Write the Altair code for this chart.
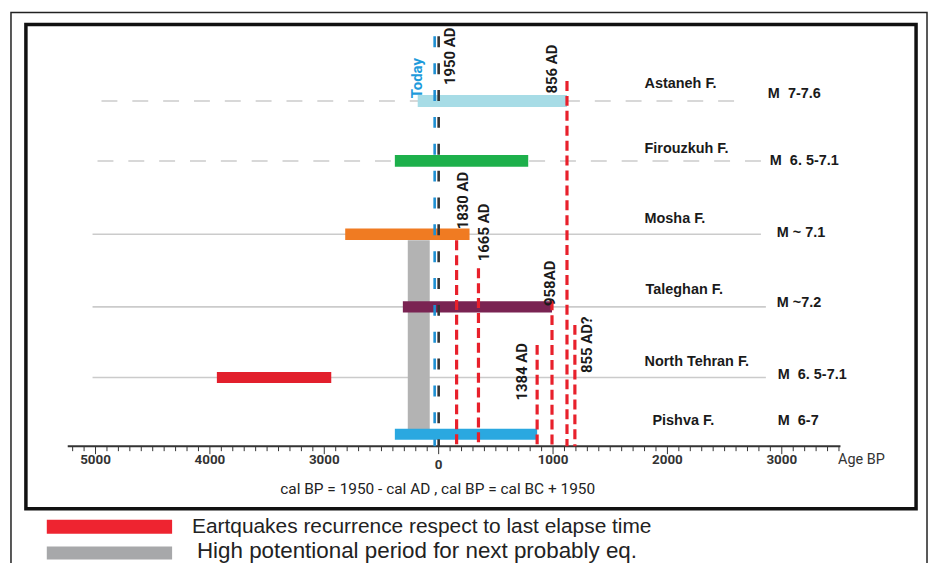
import altair as alt
import pandas as pd

# ---------------- data ----------------
faults = ["Astaneh F.", "Firouzkuh F.", "Mosha F.", "Taleghan F.", "North Tehran F.", "Pishva F."]
magnitudes = ["M\u00a0 7-7.6", "M\u00a0 6. 5-7.1", "M ~ 7.1", "M ~7.2", "M\u00a0 6. 5-7.1", "M\u00a0 6-7"]
row_level = [5.0, 4.1, 3.0, 1.91, 0.85, 0.0]
bar_start_bp = [-183, -383, -817, -313, -1939, -383]
bar_end_bp = [1122, 783, 270, 991, -939, 861]

events = ["856 AD", "1830 AD", "1665 AD", "958AD", "1384 AD", "855 AD?"]
event_bp = [1122, 157, 348, 991, 861, 1191]
event_top = [5.30, 2.91, 2.49, 2.01, 1.34, 1.64]

ref_names = ["Today", "1950 AD"]
ref_bp = [-35, 0]
ref_top = [5.97, 5.97]

band_bp = [-270, -78]
band_level = [2.91, 0.0]

axis_level = -0.18
axis_range_bp = [-3243, 3513]
tick_values = list(range(-3200, 3600, 100))
label_values = [-3000, -2000, -1000, 0, 1000, 2000, 3000]
tick_labels = ["5000", "4000", "3000", "0", "1000", "2000", "3000"]

caption = "cal BP = 1950 - cal AD , cal BP = cal BC + 1950"
legend_texts = ["Eartquakes recurrence respect to last elapse time",
                "High potentional period for next probably eq."]

# ---------------- style / layout ----------------
W, H = 925, 555
bar_colors = ["#A7DCE6", "#1DB04B", "#F07B22", "#7A2352", "#E21F2C", "#2AA8E0"]
bar_thick = [12, 11, 13, 13, 8, 14]
RED = "#E8202B"
NARROW = "Roboto, DejaVu Sans Condensed, sans-serif"
ARIAL = "Liberation Sans, Arial, sans-serif"

XS = alt.Scale(domain=[-3765.2, 4278.3], nice=False, zero=False)
YS = alt.Scale(domain=[-1.9104, 6.3731], nice=False, zero=False)


def X(f):
    return alt.X(f, type="quantitative", scale=XS, axis=None)


def Y(f):
    return alt.Y(f, type="quantitative", scale=YS, axis=None)


one = pd.DataFrame({"k": [0]})
layers = []

# frames
layers.append(alt.Chart(one).mark_rect(fill="transparent", stroke="#222", strokeWidth=1.5).encode(
    x=alt.value(3), x2=alt.value(924), y=alt.value(3), y2=alt.value(620)))
layers.append(alt.Chart(one).mark_rect(fill="transparent", stroke="#111", strokeWidth=3.5).encode(
    x=alt.value(18), x2=alt.value(913), y=alt.value(15), y2=alt.value(502)))

rows = pd.DataFrame({"fault": faults, "mag": magnitudes, "level": row_level,
                     "start": bar_start_bp, "end": bar_end_bp})

# gray guide lines per row (plot pixel extents, dashed?)
GUIDES = {"Astaneh F.": (94, 742, True), "Firouzkuh F.": (90, 757, True),
          "Mosha F.": (85, 757, False), "Taleghan F.": (85, 762, False),
          "North Tehran F.": (85, 762, False)}
for name, (a, b, dashed) in GUIDES.items():
    kw = dict(color="#CBCBCB", strokeWidth=1.6)
    if dashed:
        kw["strokeDash"] = [16, 15]
    layers.append(alt.Chart(rows[rows.fault == name]).mark_rule(**kw).encode(
        x=alt.value(a), x2=alt.value(b), y=Y("level")))

# gray high-potential band
band = pd.DataFrame({"x0": [band_bp[0]], "x1": [band_bp[1]], "y0": [band_level[0]], "y1": [band_level[1]]})
layers.append(alt.Chart(band).mark_rect(color="#B3B3B3").encode(
    x=X("x0"), x2=alt.X2("x1"), y=Y("y0"), y2=alt.Y2("y1")))

# fault bars
layers.append(alt.Chart(rows).mark_rule(strokeCap="butt").encode(
    x=X("start"), x2=alt.X2("end"), y=Y("level"),
    color=alt.Color("fault:N", scale=alt.Scale(domain=faults, range=bar_colors), legend=None),
    size=alt.Size("fault:N", scale=alt.Scale(domain=faults, range=bar_thick), legend=None)))

# axis line and ticks
ax = pd.DataFrame({"x0": [axis_range_bp[0]], "x1": [axis_range_bp[1]], "y": [axis_level]})
layers.append(alt.Chart(ax).mark_rule(color="#333", strokeWidth=2).encode(
    x=X("x0"), x2=alt.X2("x1"), y=Y("y")))
ticks = pd.DataFrame({"bp": tick_values})
ticks["y0"] = axis_level
ticks["y1"] = [axis_level - (8 if v % 1000 == 0 else 5) / 67 for v in tick_values]
layers.append(alt.Chart(ticks).mark_rule(color="#333", strokeWidth=1).encode(
    x=X("bp"), y=Y("y0"), y2=alt.Y2("y1")))
tl = pd.DataFrame({"bp": label_values, "lab": tick_labels, "y": axis_level})
layers.append(alt.Chart(tl[tl.bp != 0]).mark_text(font=NARROW, fontSize=13.5, fontWeight="bold", color="#333",
                                                  baseline="middle", dy=14).encode(
    x=X("bp"), y=Y("y"), text="lab:N"))
layers.append(alt.Chart(tl[tl.bp == 0]).mark_text(font=NARROW, fontSize=13.5, fontWeight="bold", color="#333",
                                                  baseline="middle", dy=19).encode(
    x=X("bp"), y=Y("y"), text="lab:N"))
layers.append(alt.Chart(one).mark_text(text="Age BP", font=NARROW, fontSize=14.5, color="#333",
                                       baseline="middle").encode(x=alt.value(858), y=alt.value(453)))

# reference lines (Today, 1950 AD)
refs = pd.DataFrame({"name": ref_names, "bp": ref_bp, "top": ref_top, "bot": axis_level})
REF_COL = {"Today": "#1E8FD2", "1950 AD": "#333333"}
for name, col in REF_COL.items():
    layers.append(alt.Chart(refs[refs.name == name]).mark_rule(
        strokeWidth=2.6, strokeDash=[11, 16], color=col).encode(
        x=X("bp"), y=Y("top"), y2=alt.Y2("bot")))

# red event lines
ev = pd.DataFrame({"name": events, "bp": event_bp, "top": event_top, "bot": axis_level})
layers.append(alt.Chart(ev).mark_rule(color=RED, strokeWidth=3.2, strokeDash=[10, 5]).encode(
    x=X("bp"), y=Y("top"), y2=alt.Y2("bot")))

# rotated labels: (up offset, right offset) in px relative to line top
LAB_OFF = {"856 AD": (12, -15), "1830 AD": (40, 6), "1665 AD": (36, 6), "958AD": (17, -2),
           "1384 AD": (-27, -15), "855 AD?": (-20, 12)}
for name, (up, right) in LAB_OFF.items():
    layers.append(alt.Chart(ev[ev.name == name]).mark_text(
        font=NARROW, fontSize=15, fontWeight="bold", color="#1a1a1a", angle=270,
        align="center", baseline="middle", dx=up, dy=right).encode(
        x=X("bp"), y=Y("top"), text="name:N"))
REF_OFF = {"Today": (-42, -18, "#1E9BDB"), "1950 AD": (-20, 11, "#1a1a1a")}
for name, (up, right, col) in REF_OFF.items():
    layers.append(alt.Chart(refs[refs.name == name]).mark_text(
        font=NARROW, fontSize=15, fontWeight="bold", color=col, angle=270,
        align="center", baseline="middle", dx=up, dy=right).encode(
        x=X("bp"), y=Y("top"), text="name:N"))

# fault names and magnitudes (left x in plot px, vertical offsets)
NAME_POS = {"Astaneh F.": (640, -17, 764, -7), "Firouzkuh F.": (640, -12, 766, 0),
            "Mosha F.": (640, -15, 773, -1), "Taleghan F.": (641, -17, 773, -4),
            "North Tehran F.": (640, -16, 774, -3), "Pishva F.": (648, -13, 774, -13)}
for name, (nx, ndy, mx, mdy) in NAME_POS.items():
    d = rows[rows.fault == name]
    layers.append(alt.Chart(d).mark_text(font=ARIAL, fontSize=14.5, fontWeight="bold", color="#1a1a1a",
                                         align="left", baseline="middle", dy=ndy).encode(
        x=alt.value(nx), y=Y("level"), text="fault:N"))
    layers.append(alt.Chart(d).mark_text(font=ARIAL, fontSize=14.5, fontWeight="bold", color="#1a1a1a",
                                         align="left", baseline="middle", dy=mdy).encode(
        x=alt.value(mx), y=Y("level"), text="mag:N"))

# caption
layers.append(alt.Chart(one).mark_text(text=caption, font=NARROW, fontSize=15.5, color="#222",
                                       align="center", baseline="middle").encode(
    x=alt.value(432), y=alt.value(482)))

# legend
layers.append(alt.Chart(one).mark_rect(color="#EE2430").encode(
    x=alt.value(39), x2=alt.value(165), y=alt.value(513), y2=alt.value(527)))
layers.append(alt.Chart(one).mark_rect(color="#A7A8AA").encode(
    x=alt.value(39), x2=alt.value(165), y=alt.value(540), y2=alt.value(553)))
layers.append(alt.Chart(one).mark_text(text=legend_texts[0], font=ARIAL, fontSize=21, color="#222",
                                       align="left", baseline="middle").encode(
    x=alt.value(185), y=alt.value(520)))
layers.append(alt.Chart(one).mark_text(text=legend_texts[1], font=ARIAL, fontSize=22.5, color="#222",
                                       align="left", baseline="middle").encode(
    x=alt.value(190), y=alt.value(544)))

chart = alt.layer(*layers).properties(
    width=W, height=H, autosize=alt.AutoSizeParams(type="none"), padding=0,
    background="white"
).configure_view(strokeWidth=0)

chart.save("out.html", embed_options={"renderer": "svg", "actions": False})
